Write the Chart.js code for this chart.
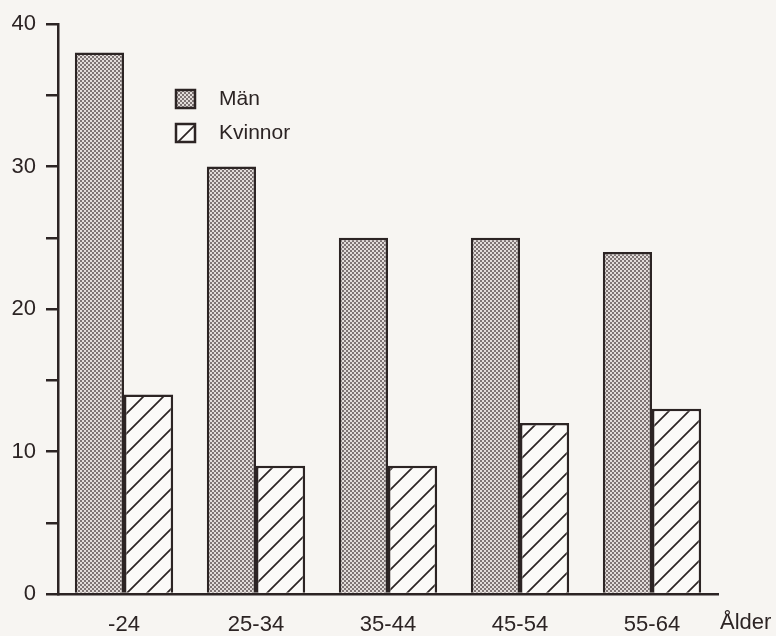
<!DOCTYPE html>
<html lang="sv">
<head>
    <meta charset="UTF-8">
    <title>Män och kvinnor efter ålder</title>
    <script src="https://cdn.jsdelivr.net/npm/chart.js"></script>
    <style>
        html, body { margin: 0; padding: 0; background: #f7f5f2; }
        #wrap { width: 776px; height: 636px; }
    </style>
</head>
<body>
<div id="wrap"><canvas id="ageChart" width="776" height="636"></canvas></div>
<script>
    // data
    var ageGroups = ['-24', '25-34', '35-44', '45-54', '55-64'];
    var menValues = [38, 30, 25, 25, 24];
    var womenValues = [14, 9, 9, 12, 13];
    var yTicks = [0, 10, 20, 30, 40];
    var xTitle = 'Ålder';

    var ink = '#2c2424';
    var fontFamily = '"Liberation Sans", Arial, Helvetica, sans-serif';

    function makeStipple() { // grey dotted raster like the print
        var c = document.createElement('canvas');
        c.width = 4; c.height = 4;
        var g = c.getContext('2d');
        g.fillStyle = '#e2dcda';
        g.fillRect(0, 0, 4, 4);
        g.fillStyle = '#7e7474';
        g.fillRect(0, 0, 2, 2);
        g.fillRect(2, 2, 2, 2);
        return g.createPattern(c, 'repeat');
    }

    function makeHatch() { // "/" lines on white
        var s = 20;
        var c = document.createElement('canvas');
        c.width = s; c.height = s;
        var g = c.getContext('2d');
        g.fillStyle = '#fbfaf8';
        g.fillRect(0, 0, s, s);
        g.strokeStyle = ink;
        g.lineWidth = 1.7;
        g.beginPath();
        g.moveTo(-2, s + 2); g.lineTo(s + 2, -2);
        g.moveTo(-2, 2); g.lineTo(2, -2);
        g.moveTo(s - 2, s + 2); g.lineTo(s + 2, s - 2);
        g.stroke();
        return g.createPattern(c, 'repeat');
    }

    var stipple = makeStipple();
    var hatch = makeHatch();

    var boxLegend = { // legend inside the plot, near the top
        id: 'boxLegend',
        afterDraw: function(chart) {
            var ctx = chart.ctx;
            ctx.save();
            chart.data.datasets.forEach(function(ds, i) {
                var x = 176, y = 90 + i * 34;
                ctx.fillStyle = ds.backgroundColor;
                ctx.fillRect(x, y, 19, 18);
                ctx.lineWidth = 2.5;
                ctx.strokeStyle = ink;
                ctx.strokeRect(x, y, 19, 18);
                ctx.fillStyle = ink;
                ctx.font = '21px ' + fontFamily;
                ctx.textBaseline = 'middle';
                ctx.fillText(ds.label, x + 43, y + 9);
            });
            // axis title at the right end of the category labels
            ctx.font = '22px ' + fontFamily;
            ctx.textBaseline = 'middle';
            ctx.fillText(xTitle, 720, 623);
            ctx.restore();
        }
    };

    var ctx = document.getElementById('ageChart').getContext('2d');
    var ageChart = new Chart(ctx, {
        type: 'bar',
        data: {
            labels: ageGroups,
            datasets: [{
                label: 'Män',
                data: menValues,
                backgroundColor: stipple,
                borderColor: ink,
                borderWidth: 2.5
            }, {
                label: 'Kvinnor',
                data: womenValues,
                backgroundColor: hatch,
                borderColor: ink,
                borderWidth: 2.5
            }]
        },
        options: {
            responsive: false,
            animation: false,
            layout: { padding: { top: 24, right: 58, left: 0, bottom: 0 } },
            categoryPercentage: 0.745,
            barPercentage: 1.0,
            plugins: {
                legend: { display: false },
                tooltip: { enabled: false }
            },
            scales: {
                x: {
                    grid: { display: false },
                    border: { display: true, color: ink, width: 2.5 },
                    ticks: { color: ink, padding: 10, font: { family: fontFamily, size: 22 } },
                    afterFit: function(scale) { scale.height = 42; }
                },
                y: {
                    min: 0,
                    max: 40,
                    grid: { drawOnChartArea: false, tickLength: 12, color: ink, lineWidth: 2.5 },
                    border: { display: true, color: ink, width: 2.5 },
                    ticks: {
                        stepSize: 5,
                        color: ink,
                        padding: 10,
                        font: { family: fontFamily, size: 22 },
                        callback: function(v) { return yTicks.indexOf(v) >= 0 ? String(v) : ''; }
                    },
                    afterFit: function(scale) { scale.width = 58; }
                }
            }
        },
        plugins: [boxLegend]
    });
</script>
</body>
</html>
